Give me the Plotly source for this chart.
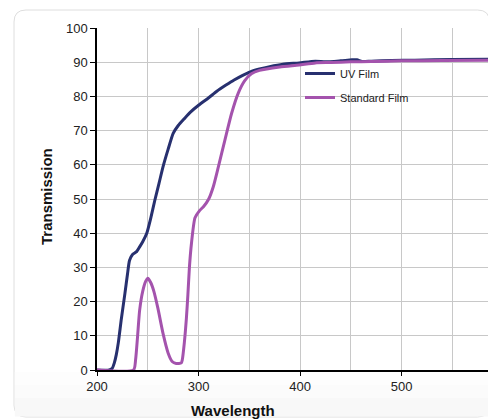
import plotly.graph_objects as go

# ---- data ----
uv_wl = [200, 212, 215, 217, 219, 221, 224, 227.5, 230, 232, 235, 239, 242, 245, 249, 253, 257,
         261, 265, 270, 275, 280, 286, 292, 300, 310, 318, 327, 335, 343, 351, 360, 370, 383,
         399, 415, 425, 440, 451, 456, 461, 470, 490, 513, 550, 586]
uv_t = [0, 0, 0.5, 2, 4.5, 8, 15, 22.4, 28, 32, 33.8, 34.6, 36, 37.5, 40, 44.5, 49.7,
        54.5, 59.4, 64.5, 69.2, 71.5, 73.5, 75.4, 77.4, 79.6, 81.5, 83.3, 84.8, 86.1, 87.2, 88, 88.7, 89.4,
        89.8, 90.3, 90.1, 90.4, 90.7, 90.7, 90.2, 90.3, 90.5, 90.6, 90.8, 90.9]

std_wl = [200, 236, 238, 240, 242, 245, 248, 250, 253, 256, 260, 265, 270, 274, 278, 283,
          284, 286, 288, 289.5, 291, 293, 296.5, 301, 305, 310, 314.5, 319.5, 326, 332.5, 339,
          345.5, 352, 360, 380, 399, 415, 430, 450, 470, 500, 540, 586]
std_t = [0, 0, 3, 10, 17.5, 23, 26, 26.8, 25.5, 23, 18, 10.7, 5, 2.5, 1.9, 2.1,
         3, 8, 15, 22, 30, 37, 44.5, 46.6, 47.8, 50, 53.6, 59.4, 67.3, 75, 80.9,
         84.6, 86.6, 87.6, 88.6, 89.2, 89.8, 89.9, 90.1, 90.2, 90.4, 90.5, 90.6]

x_ticks = [200, 300, 400, 500]
y_ticks = [0, 10, 20, 30, 40, 50, 60, 70, 80, 90, 100]

UV_COLOR = "#27306f"
STD_COLOR = "#a453ad"
FONT = "Liberation Sans, Arial, sans-serif"

# the page places the figure 8px in from the top-left corner
OFF = 8
# pixel geometry (window coordinates) of the plot area
L, R, T, B = 97, 489, 28, 370
W, H = 496 - OFF, 419 - OFF


def px(x):
    return (x - L) / (R - L)


def py(y):
    return (B - y) / (B - T)


fig = go.Figure()
fig.add_trace(go.Scatter(x=uv_wl, y=uv_t, name="UV Film", mode="lines",
                         line=dict(color=UV_COLOR, width=3, shape="spline", smoothing=0.6),
                         legend="legend"))
fig.add_trace(go.Scatter(x=std_wl, y=std_t, name="Standard Film", mode="lines",
                         line=dict(color=STD_COLOR, width=3, shape="spline", smoothing=0.6),
                         legend="legend2"))

# card background with rounded corners
x0, x1, y0, y1, r = 14, 489.5, 10, 417, 12
path = (f"M{px(x0 + r)},{py(y0)} L{px(x1 - r)},{py(y0)} Q{px(x1)},{py(y0)} {px(x1)},{py(y0 + r)} "
        f"L{px(x1)},{py(y1 - r)} Q{px(x1)},{py(y1)} {px(x1 - r)},{py(y1)} "
        f"L{px(x0 + r)},{py(y1)} Q{px(x0)},{py(y1)} {px(x0)},{py(y1 - r)} "
        f"L{px(x0)},{py(y0 + r)} Q{px(x0)},{py(y0)} {px(x0 + r)},{py(y0)} Z")
shapes = [dict(type="path", path=path, xref="paper", yref="paper", layer="below",
               fillcolor="white", line=dict(color="#dedede", width=1))]
# subtle gradient near the bottom of the card
bands = [(372, 385, "#fdfdfd"), (385, 398, "#fbfbfb"), (398, 416.5, "#f8f8f8")]
for a, b, c in bands:
    shapes.append(dict(type="rect", xref="paper", yref="paper", layer="below",
                       x0=px(x0 + 0.8), x1=px(x1 - 0.8), y0=py(b), y1=py(a),
                       fillcolor=c, line=dict(width=0)))

fig.update_layout(
    width=W, height=H,
    margin=dict(l=L - OFF, r=496 - R, t=T - OFF, b=419 - B, pad=0),
    paper_bgcolor="white",
    plot_bgcolor="rgba(0,0,0,0)",
    font=dict(family=FONT, size=13, color="#222222"),
    shapes=shapes,
    showlegend=True,
    legend=dict(x=px(300), y=py(59), xanchor="left", yanchor="top",
                bgcolor="rgba(0,0,0,0)", font=dict(size=11, color="#222222"),
                itemwidth=30, borderwidth=0),
    legend2=dict(x=px(300), y=py(83), xanchor="left", yanchor="top",
                 bgcolor="rgba(0,0,0,0)", font=dict(size=11, color="#222222"),
                 itemwidth=30, borderwidth=0),
    annotations=[
        dict(text="<b>Transmission</b>", textangle=-90, x=px(47), y=py(197),
             xref="paper", yref="paper", showarrow=False,
             font=dict(size=15, color="#111111"), xanchor="center", yanchor="middle"),
        dict(text="<b>Wavelength</b>", x=px(233), y=py(410),
             xref="paper", yref="paper", showarrow=False,
             font=dict(size=15, color="#111111"), xanchor="center", yanchor="middle"),
    ],
)
fig.update_xaxes(range=[200, 586], tickvals=x_ticks, ticks="outside", ticklen=4,
                 tickcolor="black", showline=True, linecolor="black", linewidth=1.5,
                 showgrid=True, gridcolor="#c8c8c8", gridwidth=1, zeroline=False,
                 minor=dict(dtick=50, tick0=200, showgrid=True, gridcolor="#c8c8c8",
                            gridwidth=1, ticks=""),
                 tickfont=dict(size=13, color="#222222"), fixedrange=True)
fig.update_yaxes(range=[0, 100], tickvals=y_ticks, ticks="outside", ticklen=5,
                 tickcolor="black", showline=True, linecolor="black", linewidth=1.5,
                 showgrid=True, gridcolor="#c8c8c8", gridwidth=1, zeroline=False,
                 tickfont=dict(size=13, color="#222222"), fixedrange=True)

fig.write_html("out.html")
